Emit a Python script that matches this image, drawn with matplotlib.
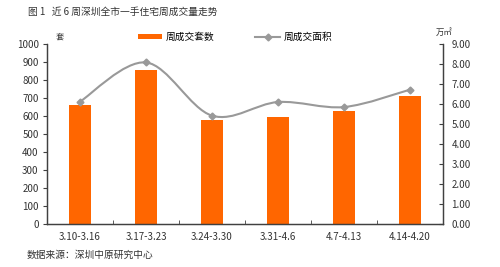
import numpy as np
import matplotlib
matplotlib.use('Agg')
import matplotlib.pyplot as plt
from matplotlib.path import Path
from matplotlib.patches import PathPatch, Patch
from matplotlib.lines import Line2D

plt.rcParams['font.family'] = ['Noto Sans CJK SC', 'DejaVu Sans']
plt.rcParams['axes.unicode_minus'] = False

weeks = ['3.10-3.16', '3.17-3.23', '3.24-3.30', '3.31-4.6', '4.7-4.13', '4.14-4.20']
units = [663, 857, 580, 594, 628, 713]          # 周成交套数 (套)
area = [6.12, 8.08, 5.42, 6.10, 5.85, 6.72]     # 周成交面积 (万㎡)

bar_color = '#FF6600'
line_color = '#999999'
axis_color = '#404040'
fs = 7


def smooth_path(xs, ys):
    # Catmull-Rom style bezier segments through the points (like a smoothed line)
    pts = np.column_stack([xs, ys]).astype(float)
    ext = np.vstack([pts[0], pts, pts[-1]])
    verts = [tuple(pts[0])]
    codes = [Path.MOVETO]
    for i in range(len(pts) - 1):
        p0, p1, p2, p3 = ext[i], ext[i + 1], ext[i + 2], ext[i + 3]
        c1 = p1 + (p2 - p0) / 6.0
        c2 = p2 - (p3 - p1) / 6.0
        verts += [tuple(c1), tuple(c2), tuple(p2)]
        codes += [Path.CURVE4] * 3
    return Path(verts, codes)


fig = plt.figure(figsize=(5, 2.67), dpi=100)
ax = fig.add_axes([0.094, 0.161, 0.792, 0.674])
ax2 = ax.twinx()

x = np.arange(len(weeks))
ax.bar(x, units, width=0.33, color=bar_color, zorder=2)

ax.set_xlim(-0.5, len(weeks) - 0.5)
ax.set_ylim(0, 1000)
ax.set_yticks(np.arange(0, 1001, 100))
ax.set_xticks(x)
ax.set_xticklabels(weeks)
ax.set_xticks(np.arange(0.5, len(weeks) - 0.5, 1), minor=True)
ax.tick_params(axis='x', which='major', length=0, labelsize=fs, pad=6, colors='#333333')
ax.tick_params(axis='x', which='minor', length=3, direction='in', color=axis_color)
ax.tick_params(axis='y', length=3, direction='out', labelsize=fs, colors='#333333', color=axis_color, pad=3)

ax2.set_ylim(0, 9)
ax2.set_yticks(np.arange(0, 9.01, 1))
ax2.set_yticklabels(['%.2f' % v for v in np.arange(0, 9.01, 1)])
ax2.tick_params(axis='y', length=3, direction='in', labelsize=fs, colors='#333333', color=axis_color, pad=6)

path = smooth_path(x, area)
ax2.add_patch(PathPatch(path, facecolor='none', edgecolor=line_color, lw=1.5, zorder=3))
ax2.plot(x, area, linestyle='none', marker='D', markersize=3.5, color=line_color, zorder=4)

for a in (ax, ax2):
    a.spines['top'].set_visible(False)
    for s in ('left', 'right', 'bottom'):
        a.spines[s].set_color(axis_color)
        a.spines[s].set_linewidth(0.9)

handles = [Patch(facecolor=bar_color, edgecolor='none'),
           Line2D([0], [0], color=line_color, lw=1.5, marker='D', markersize=3.5)]
fig.legend(handles, ['周成交套数', '周成交面积'], loc='center', bbox_to_anchor=(0.47, 0.862),
           ncol=2, frameon=False, fontsize=fs, handlelength=2.5, handleheight=0.45,
           handletextpad=0.4, columnspacing=4.2)

fig.text(0.056, 0.955, '图 1   近 6 周深圳全市一手住宅周成交量走势', fontsize=fs, color='#333333', va='center')
fig.text(0.112, 0.862, '套', fontsize=6, color='#333333', va='center')
fig.text(0.872, 0.88, '万㎡', fontsize=6, color='#333333', va='center')
fig.text(0.054, 0.045, '数据来源：深圳中原研究中心', fontsize=fs, color='#333333', va='center')

fig.savefig('out.png', dpi=100)
